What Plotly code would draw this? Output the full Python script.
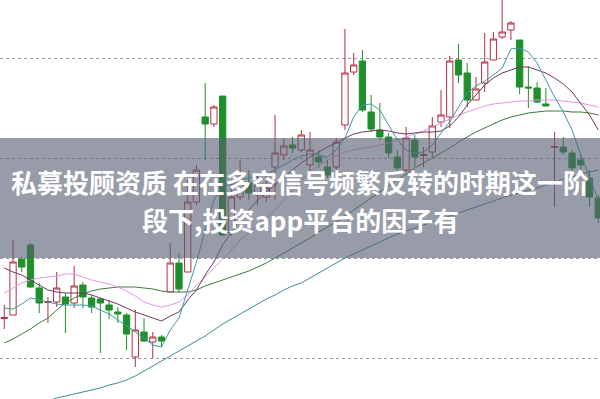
import plotly.graph_objects as go

idx = list(range(69))

opens = [13.95,14.3,19.9,21.3,17.0,15.55,15.6,16.1,15.5,17.3,16.0,15.9,15.3,14.6,14.3,10.1,12.6,11.6,12.1,16.6,
         19.5,18.6,25.6,34.1,33.4,36.2,22.5,26.1,27.5,26.3,26.1,29.1,30.3,31.3,30.8,29.3,30.1,29.1,29.1,33.3,
         38.6,39.7,34.6,32.8,32.1,30.1,28.8,31.8,30.25,30.6,33.6,34.1,39.8,38.5,35.8,37.5,39.8,42.1,42.8,41.8,
         37.1,37.0,35.4,31.05,31.1,30.5,29.8,28.0,26.0]
highs = [15.3,21.8,20.1,21.5,17.5,16.1,18.6,16.5,19.2,17.6,16.3,16.0,15.8,15.1,14.5,14.8,14.0,12.6,12.3,21.5,
         20.5,27.8,29.3,37.5,35.3,36.2,27.8,29.8,28.8,28.3,28.3,34.3,32.0,32.1,32.8,32.6,30.8,29.8,32.0,42.9,
         40.5,40.8,36.3,35.5,32.5,30.8,33.1,32.3,31.1,34.1,36.8,40.2,41.4,39.5,38.1,42.5,42.6,46.1,43.7,41.8,
         39.2,37.6,37.0,32.6,32.1,30.8,30.3,28.8,26.3]
lows = [12.9,14.3,18.6,17.0,14.5,13.5,15.1,12.5,15.0,15.0,14.5,10.5,13.9,13.5,10.8,9.1,11.6,10.0,11.1,16.6,
        16.5,18.6,25.3,29.8,33.1,22.2,22.2,25.8,25.8,25.3,25.6,25.8,29.8,30.5,30.6,28.5,29.0,28.0,28.8,32.8,
        38.3,34.6,32.6,31.8,30.0,28.6,28.6,29.1,29.1,30.1,33.1,33.0,37.5,35.1,35.8,36.6,39.8,41.9,41.8,36.4,
        35.0,35.5,35.2,25.1,30.3,28.5,28.8,25.1,23.5]
closes = [14.05,19.6,19.1,17.1,15.5,15.65,17.0,15.4,17.2,16.1,15.1,15.5,14.8,14.4,12.4,12.8,11.7,12.1,11.7,19.5,
          16.9,25.6,28.8,33.4,35.1,22.3,26.1,27.6,26.5,27.3,27.0,30.5,31.2,31.0,32.3,30.8,29.6,28.3,31.6,38.5,
          39.3,34.8,32.9,32.1,30.5,29.0,32.0,30.1,30.35,33.2,34.3,39.7,38.3,35.8,36.9,39.6,41.9,42.6,43.5,37.1,
          37.0,35.6,35.2,31.15,30.6,29.0,29.3,26.1,24.0]

ma5 = [15.0,14.9,15.4,16.0,15.8,15.6,15.4,15.3,15.3,15.3,15.2,14.8,14.4,13.8,13.2,12.6,12.0,11.3,11.1,12.8,
       14.0,16.8,19.6,22.8,25.8,27.3,27.3,27.8,28.0,28.2,28.4,28.8,29.3,29.8,30.2,30.4,30.3,30.1,30.8,32.0,
       34.1,35.3,35.4,34.8,33.3,31.8,30.8,30.5,30.6,31.3,32.5,33.6,35.1,36.5,37.2,37.7,38.3,39.0,40.9,41.0,
       40.6,39.5,37.8,36.1,34.6,32.8,30.3,28.1,25.8]
ma10 = [19.0,18.6,18.3,17.8,17.3,16.8,16.6,16.5,16.5,16.5,16.3,16.0,15.7,15.4,15.0,14.6,14.3,14.0,13.7,14.2,
        14.6,15.8,16.8,18.3,19.6,21.3,22.6,23.8,24.8,25.8,26.6,27.3,28.0,28.8,29.5,30.1,30.6,31.1,31.5,32.0,
        32.4,32.6,32.7,32.8,32.7,32.5,32.4,32.5,32.6,32.6,32.7,33.2,34.1,35.3,36.3,37.3,38.0,38.5,38.8,39.1,
        39.1,38.8,38.5,38.0,37.4,36.6,35.5,34.3,32.8]
ma20 = [16.5,17.0,17.5,17.8,18.0,18.1,18.2,18.4,18.4,18.1,17.8,17.6,17.4,17.1,16.7,16.2,15.6,15.3,15.1,15.3,
        15.6,16.3,17.3,18.1,19.0,19.8,20.8,21.8,22.6,23.3,24.0,24.8,25.8,26.8,27.8,28.6,29.3,29.8,30.2,30.6,
        30.8,31.0,31.1,31.3,31.5,31.8,32.1,32.4,32.7,33.1,33.5,33.9,34.3,34.6,34.9,35.2,35.4,35.5,35.6,35.7,
        35.7,35.8,35.8,35.8,35.7,35.6,35.5,35.3,35.1]
ma30 = [11.5,11.9,12.4,12.9,13.5,14.0,14.8,15.5,16.0,16.4,16.7,16.9,17.0,17.1,17.1,17.1,17.0,16.9,16.7,16.6,
        16.6,16.6,16.8,17.2,17.5,17.8,18.1,18.4,18.7,19.1,19.5,20.0,20.5,21.0,21.5,22.0,22.6,23.1,23.6,24.2,
        24.8,25.4,26.0,26.6,27.2,27.8,28.4,29.0,29.5,30.0,30.5,31.0,31.6,32.1,32.6,33.0,33.4,33.8,34.1,34.3,
        34.5,34.6,34.7,34.7,34.7,34.6,34.6,34.5,34.3]
ma120 = [4.5,4.8,5.0,5.3,5.5,5.7,6.0,6.2,6.4,6.6,6.8,7.0,7.3,7.5,7.8,8.2,8.7,9.2,9.7,10.2,
         10.7,11.2,11.7,12.2,12.8,13.4,13.9,14.4,14.9,15.4,15.9,16.3,16.8,17.2,17.5,18.0,18.5,19.0,19.5,20.0,
         20.4,20.8,21.2,21.6,22.0,22.4,22.7,23.0,23.3,23.6,23.9,24.2,24.5,24.8,25.1,25.4,25.7,26.0,26.3,26.5,
         26.8,27.0,27.3,27.6,27.9,28.1,28.4,28.6,28.8]

grid_levels = [10, 20, 30, 40]
title_lines = ["私募投顾资质 在在多空信号频繁反转的时期这一阶", "段下,投资app平台的因子有"]

fig = go.Figure()
fig.add_trace(go.Candlestick(
    x=idx, open=opens, high=highs, low=lows, close=closes,
    increasing=dict(line=dict(color="#b0303f", width=1), fillcolor="#ffffff"),
    decreasing=dict(line=dict(color="#1f8f2c", width=1), fillcolor="#1f8f2c"),
    whiskerwidth=0, hoverinfo="skip", showlegend=False,
))

line_specs = [
    (ma120, "#3f8b93"),
    (ma30, "#3e7a3e"),
    (ma20, "#e494e4"),
    (ma10, "#74385f"),
    (ma5, "#3c9aaa"),
]
for vals, col in line_specs:
    fig.add_trace(go.Scatter(x=idx, y=vals, mode="lines",
                             line=dict(color=col, width=1), hoverinfo="skip",
                             showlegend=False))

fig.add_shape(type="rect", xref="paper", yref="y", x0=0, x1=1, y0=20.0, y1=32.0,
              fillcolor="rgba(88,96,114,0.62)", line=dict(width=0), layer="above")

fig.add_annotation(text="<b>" + title_lines[0] + "</b>", xref="paper", yref="paper",
                   x=0.5, y=0.546, xanchor="center", yanchor="middle", showarrow=False,
                   font=dict(family="Noto Sans CJK SC", size=26, color="#ffffff"))
fig.add_annotation(text="<b>" + title_lines[1] + "</b>", xref="paper", yref="paper",
                   x=0.5, y=0.451, xanchor="center", yanchor="middle", showarrow=False,
                   font=dict(family="Noto Sans CJK SC", size=26, color="#ffffff"))

fig.update_layout(
    width=600, height=399, margin=dict(l=0, r=0, t=0, b=0),
    paper_bgcolor="#ffffff", plot_bgcolor="#ffffff",
    showlegend=False, boxgap=0.28, boxgroupgap=0,
    xaxis=dict(range=[-0.49, 68.2], showgrid=False, zeroline=False, showticklabels=False,
               ticks="", showline=False, rangeslider=dict(visible=False), fixedrange=True),
    yaxis=dict(range=[5.9, 45.8], tickvals=grid_levels, showgrid=True, gridcolor="#9a9a9a",
               griddash="dot", gridwidth=1, zeroline=False, showticklabels=False, ticks="",
               showline=False, fixedrange=True),
)

fig.write_html("out.html")
